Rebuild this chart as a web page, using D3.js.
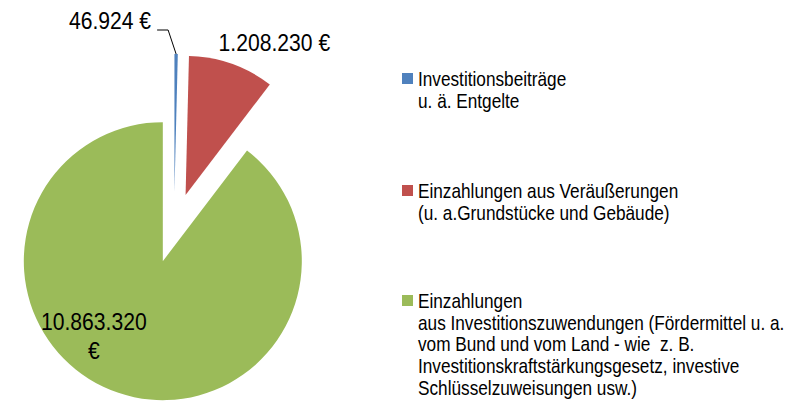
<!DOCTYPE html>
<html lang="de">
<head>
    <meta charset="UTF-8">
    <title>Einzahlungen aus Investitionstätigkeit</title>
    <script src="https://d3js.org/d3.v7.min.js"></script>
    <style>
        body {
            margin: 0;
            background: #fff;
        }
        svg text {
            font-family: "Liberation Sans", Arial, sans-serif;
            fill: #000;
        }
        .value-label {
            font-size: 24px;
        }
        .legend text {
            font-size: 21px;
        }
    </style>
</head>
<body>
    <svg id="chart" width="809" height="406"></svg>

    <script>
        // Data
        const categories = [
            "Investitionsbeiträge u. ä. Entgelte",
            "Einzahlungen aus Veräußerungen (u. a.Grundstücke und Gebäude)",
            "Einzahlungen aus Investitionszuwendungen"
        ];
        const values = [46924, 1208230, 10863320];
        const colors = ["#4F81BD", "#C0504D", "#9BBB59"];
        // legend text as it is wrapped in the picture
        const legendLines = [
            ["Investitionsbeiträge", "u. ä. Entgelte"],
            ["Einzahlungen aus Veräußerungen", "(u. a.Grundstücke und Gebäude)"],
            ["Einzahlungen",
             "aus Investitionszuwendungen (Fördermittel u. a.",
             "vom Bund und vom Land - wie  z. B.",
             "Investitionskraftstärkungsgesetz, investive",
             "Schlüsselzuweisungen usw.)"]
        ];

        // Layout
        const cx = 174, cy = 228;
        const radius = 139;
        const explode = 35;
        // the chart uses a narrow face, so the text is squeezed horizontally
        const labelSqueeze = 0.88, legendSqueeze = 0.82;

        const svg = d3.select("#chart");

        const de = d3.formatLocale({
            decimal: ",",
            thousands: ".",
            grouping: [3],
            currency: ["", " €"]
        });
        const fmt = de.format("$,.0f");

        const pie = d3.pie().sort(null).value(d => d);
        const arcs = pie(values);
        const arc = d3.arc().innerRadius(0).outerRadius(radius);

        // offset of each exploded slice
        function shift(a) {
            const mid = (a.startAngle + a.endAngle) / 2;
            return [explode * Math.sin(mid), -explode * Math.cos(mid)];
        }
        function outerPoint(a) {
            const mid = (a.startAngle + a.endAngle) / 2;
            const r = radius + explode;
            return [r * Math.sin(mid), -r * Math.cos(mid)];
        }

        const g = svg.append("g").attr("transform", `translate(${cx},${cy})`);

        g.selectAll("path.slice")
            .data(arcs)
            .enter()
            .append("path")
            .attr("class", "slice")
            .attr("transform", d => `translate(${shift(d)})`)
            .attr("d", arc)
            .attr("fill", (d, i) => colors[i]);

        function addLabel(x, y, lines, anchor, lineGap) {
            const t = g.append("g")
                .attr("transform", `translate(${x},${y}) scale(${labelSqueeze},1)`)
                .append("text")
                .attr("class", "value-label")
                .attr("text-anchor", anchor);
            lines.forEach((line, i) => {
                t.append("tspan")
                    .attr("x", 0)
                    .attr("dy", i === 0 ? 0 : lineGap)
                    .text(line);
            });
        }

        // blue slice: label outside with a leader line
        const p0 = outerPoint(arcs[0]);
        g.append("path")
            .attr("d", d3.line()([p0, [p0[0] - 8, p0[1] - 24], [p0[0] - 19, p0[1] - 24]]))
            .attr("fill", "none")
            .attr("stroke", "#000")
            .attr("stroke-width", 1);
        addLabel(p0[0] - 25, p0[1] - 25, [fmt(values[0])], "end");

        // red slice: label above the outer edge
        const p1 = outerPoint(arcs[1]);
        addLabel(p1[0] - 13, p1[1] - 13, [fmt(values[1])], "start");

        // green slice: label inside, wrapped over two lines
        const s2 = shift(arcs[2]);
        addLabel(s2[0] - 69, s2[1] + 69, fmt(values[2]).split(" "), "middle", 29);

        // Legend
        const legendX = 402, legendTop = [73, 185, 295];
        const lineH = 21.7;
        const legend = svg.append("g").attr("class", "legend");
        legendLines.forEach((lines, i) => {
            const item = legend.append("g")
                .attr("transform", `translate(${legendX},${legendTop[i]})`);
            item.append("rect")
                .attr("width", 11)
                .attr("height", 11)
                .attr("fill", colors[i]);
            const t = item.append("g")
                .attr("transform", `translate(16,13) scale(${legendSqueeze},1)`)
                .append("text");
            lines.forEach((line, j) => {
                t.append("tspan")
                    .attr("x", 0)
                    .attr("dy", j === 0 ? 0 : lineH)
                    .style("white-space", "pre")
                    .text(line);
            });
        });
    </script>
</body>
</html>
